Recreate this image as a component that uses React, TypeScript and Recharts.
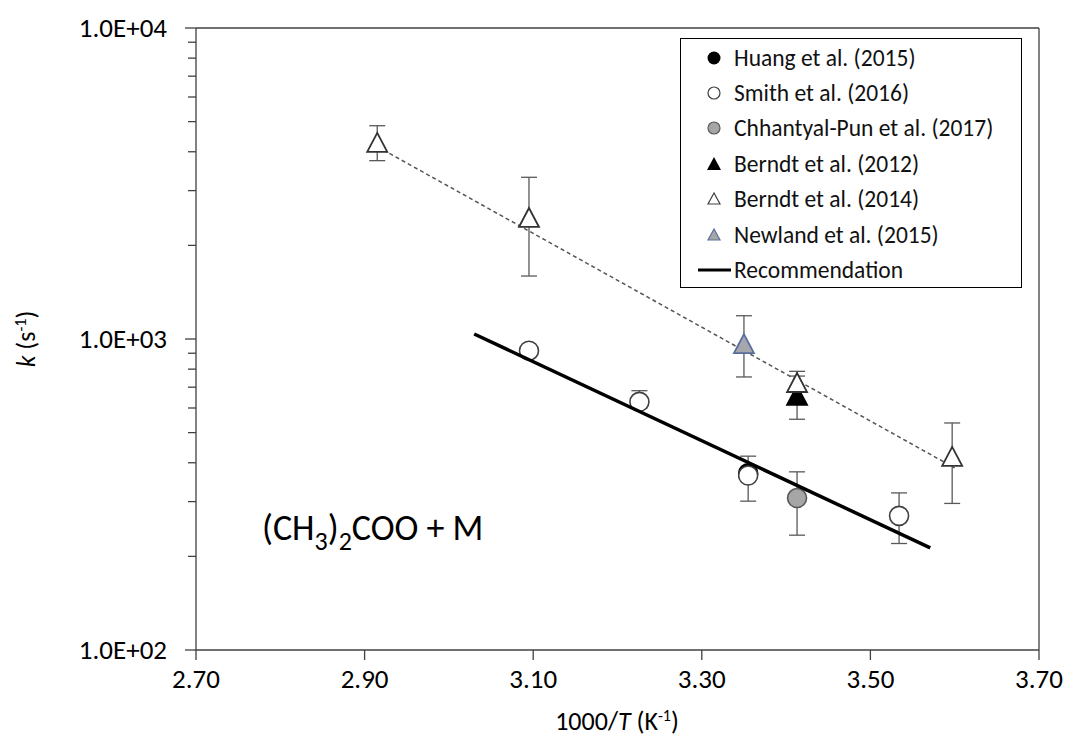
import {
  ComposedChart, Scatter, XAxis, YAxis, ErrorBar, Legend, ReferenceLine, Customized,
} from 'recharts';

const FONT = "Carlito, Lato, 'Open Sans', sans-serif";

// x = 1000/T (K^-1), k in s^-1, lo / hi = error-bar ends
const huangX = [3.355];
const huangK = [370];

const smithX = [3.095, 3.226, 3.355, 3.534];
const smithK = [917, 628, 364, 270];
const smithLo = [917, 600, 301, 220];
const smithHi = [917, 682, 420, 320];

const chhX = [3.413];
const chhK = [308];
const chhLo = [234];
const chhHi = [374];

const berndt12X = [3.413];
const berndt12K = [656];
const berndt12Lo = [552];
const berndt12Hi = [760];

const berndt14X = [2.915, 3.095, 3.413, 3.597];
const berndt14K = [4270, 2450, 722, 418];
const berndt14Lo = [3745, 1594, 680, 296];
const berndt14Hi = [4850, 3311, 787, 537];

const newlandX = [3.35];
const newlandK = [963];
const newlandLo = [755];
const newlandHi = [1188];

const recX = [3.03, 3.571];
const recK = [1038, 213];

const fitX = [2.915, 3.6];
const fitK = [4155, 385];

const xTicks = [2.7, 2.9, 3.1, 3.3, 3.5, 3.7];
const yTicks = [100, 200, 300, 400, 500, 600, 700, 800, 900, 1000, 2000, 3000, 4000, 5000, 6000, 7000, 8000, 9000, 10000];
const yMajor = ['1.0E+02', '1.0E+03', '1.0E+04'];

const legendNames = [
  'Huang et al. (2015)',
  'Smith et al. (2016)',
  'Chhantyal-Pun et al. (2017)',
  'Berndt et al. (2012)',
  'Berndt et al. (2014)',
  'Newland et al. (2015)',
  'Recommendation',
];

const rows = (xs: number[], ks: number[], lo?: number[], hi?: number[]) =>
  xs.map((x, i) => ({
    x,
    k: ks[i],
    err: lo && hi ? [ks[i] - lo[i], hi[i] - ks[i]] : [0, 0],
  }));

const circle = (fill: string, stroke: string) => (p: any) => (
  <circle cx={p.cx} cy={p.cy} r={9.5} fill={fill} stroke={stroke} strokeWidth={1.6} />
);

const triangle = (fill: string, stroke: string) => (p: any) => (
  <polygon
    points={`${p.cx},${p.cy - 10} ${p.cx - 10},${p.cy + 9} ${p.cx + 10},${p.cy + 9}`}
    fill={fill}
    stroke={stroke}
    strokeWidth={1.8}
    strokeLinejoin="miter"
  />
);

const none = () => <g />;

const YTick = ({ x, y, payload }: any) => {
  const v = payload.value;
  const lg = Math.log10(v);
  const major = Math.abs(lg - Math.round(lg)) < 1e-6;
  return (
    <g>
      <line x1={x - (major ? 11 : 8)} x2={x} y1={y} y2={y} stroke="#404040" strokeWidth={1.3} />
      {major && (
        <text x={x - 29} y={y} dy={9} textAnchor="end" fontSize={27} fontFamily={FONT} fill="#000">
          {yMajor[Math.round(lg) - 2]}
        </text>
      )}
    </g>
  );
};

const legendMarker = (i: number) => {
  switch (i) {
    case 0: return <circle cx={33} cy={17} r={6.5} fill="#000" />;
    case 1: return <circle cx={33} cy={17} r={6} fill="#fff" stroke="#404040" strokeWidth={1.2} />;
    case 2: return <circle cx={33} cy={17} r={6} fill="#a6a6a6" stroke="#595959" strokeWidth={1.2} />;
    case 3: return <polygon points="33,10 26,23 40,23" fill="#000" />;
    case 4: return <polygon points="33,11 27,22 39,22" fill="#fff" stroke="#404040" strokeWidth={1.2} />;
    case 5: return <polygon points="33,11 27,22 39,22" fill="#a6a6a6" stroke="#5a6e9b" strokeWidth={1.2} />;
    default: return <line x1={17} x2={50} y1={17} y2={17} stroke="#000" strokeWidth={3} />;
  }
};

const LegendBox = () => (
  <div
    style={{
      boxSizing: 'border-box', width: 342, height: 250, border: '1.5px solid #000',
      background: '#fff', paddingTop: 1, fontFamily: FONT, fontSize: 23.5, color: '#111',
    }}
  >
    {legendNames.map((n, i) => (
      <div key={n} style={{ display: 'flex', alignItems: 'center', height: 35.4 }}>
        <svg width={53} height={34} style={{ flex: 'none' }}>{legendMarker(i)}</svg>
        <span style={{ whiteSpace: 'nowrap', lineHeight: '34px' }}>{n}</span>
      </div>
    ))}
  </div>
);

const Annotation = () => (
  <g>
    <text x={262} y={540} fontSize={36} fontFamily={FONT} fill="#000">
      (CH<tspan fontSize={26} dy={10}>3</tspan>
      <tspan dy={-10}>)</tspan>
      <tspan fontSize={26} dy={10}>2</tspan>
      <tspan dy={-10}>COO + M</tspan>
    </text>
    <text x={35} y={339} transform="rotate(-90 35 339)" textAnchor="middle" fontSize={26} fontFamily={FONT} fill="#000">
      <tspan fontStyle="italic">k</tspan> (s<tspan fontSize={16} dy={-9}>-1</tspan>
      <tspan dy={9}>)</tspan>
    </text>
    <text x={617} y={730} textAnchor="middle" fontSize={26} fontFamily={FONT} fill="#000">
      1000/<tspan fontStyle="italic">T</tspan> (K<tspan fontSize={16} dy={-9}>-1</tspan>
      <tspan dy={9}>)</tspan>
    </text>
  </g>
);

const errStroke = '#595959';

export default function App() {
  return (
    <div style={{ position: 'absolute', left: 0, top: 0 }}>
      <ComposedChart width={1067} height={740} margin={{ top: 28, right: 28, bottom: 0, left: 0 }}>
        <XAxis
          dataKey="x"
          type="number"
          domain={[2.7, 3.7]}
          ticks={xTicks}
          tickFormatter={(v: number) => v.toFixed(2)}
          height={90}
          tickSize={10}
          tickMargin={9}
          stroke="#404040"
          strokeWidth={1.3}
          tick={{ fontSize: 27, fill: '#000', fontFamily: FONT }}
          allowDataOverflow
        />
        <YAxis
          dataKey="k"
          type="number"
          scale="log"
          domain={[100, 10000]}
          ticks={yTicks}
          width={196}
          tickSize={0}
          tickMargin={0}
          stroke="#404040"
          strokeWidth={1.3}
          tick={<YTick />}
          interval={0}
          allowDataOverflow
        />
        <ReferenceLine y={10000} stroke="#404040" strokeWidth={1.3} />
        <ReferenceLine x={3.7} stroke="#404040" strokeWidth={1.3} />
        <Legend
          content={<LegendBox />}
          layout="vertical"
          align="center"
          verticalAlign="middle"
          wrapperStyle={{ position: 'absolute', left: 680, top: 38, width: 342, height: 250 }}
        />

        <Scatter
          data={rows(fitX, fitK)}
          dataKey="k"
          shape={none}
          line={{ stroke: '#555', strokeWidth: 1.5, strokeDasharray: '4 3' }}
          isAnimationActive={false}
          legendType="none"
        />
        <Scatter data={rows(huangX, huangK)} dataKey="k" shape={circle('#000', '#000')} isAnimationActive={false} />
        <Scatter data={rows(smithX, smithK, smithLo, smithHi)} dataKey="k" shape={circle('#fff', '#404040')} isAnimationActive={false}>
          <ErrorBar dataKey="err" direction="y" width={8} stroke={errStroke} strokeWidth={1.3} />
        </Scatter>
        <Scatter data={rows(chhX, chhK, chhLo, chhHi)} dataKey="k" shape={circle('#a6a6a6', '#595959')} isAnimationActive={false}>
          <ErrorBar dataKey="err" direction="y" width={8} stroke={errStroke} strokeWidth={1.3} />
        </Scatter>
        <Scatter data={rows(berndt12X, berndt12K, berndt12Lo, berndt12Hi)} dataKey="k" shape={triangle('#000', '#000')} isAnimationActive={false}>
          <ErrorBar dataKey="err" direction="y" width={8} stroke={errStroke} strokeWidth={1.3} />
        </Scatter>
        <Scatter data={rows(berndt14X, berndt14K, berndt14Lo, berndt14Hi)} dataKey="k" shape={triangle('#fff', '#333')} isAnimationActive={false}>
          <ErrorBar dataKey="err" direction="y" width={8} stroke={errStroke} strokeWidth={1.3} />
        </Scatter>
        <Scatter data={rows(newlandX, newlandK, newlandLo, newlandHi)} dataKey="k" shape={triangle('#a6a6ae', '#5a6e9b')} isAnimationActive={false}>
          <ErrorBar dataKey="err" direction="y" width={8} stroke={errStroke} strokeWidth={1.3} />
        </Scatter>
        <Scatter
          data={rows(recX, recK)}
          dataKey="k"
          shape={none}
          line={{ stroke: '#000', strokeWidth: 3.5 }}
          isAnimationActive={false}
        />
        <Customized component={Annotation} />
      </ComposedChart>
    </div>
  );
}
